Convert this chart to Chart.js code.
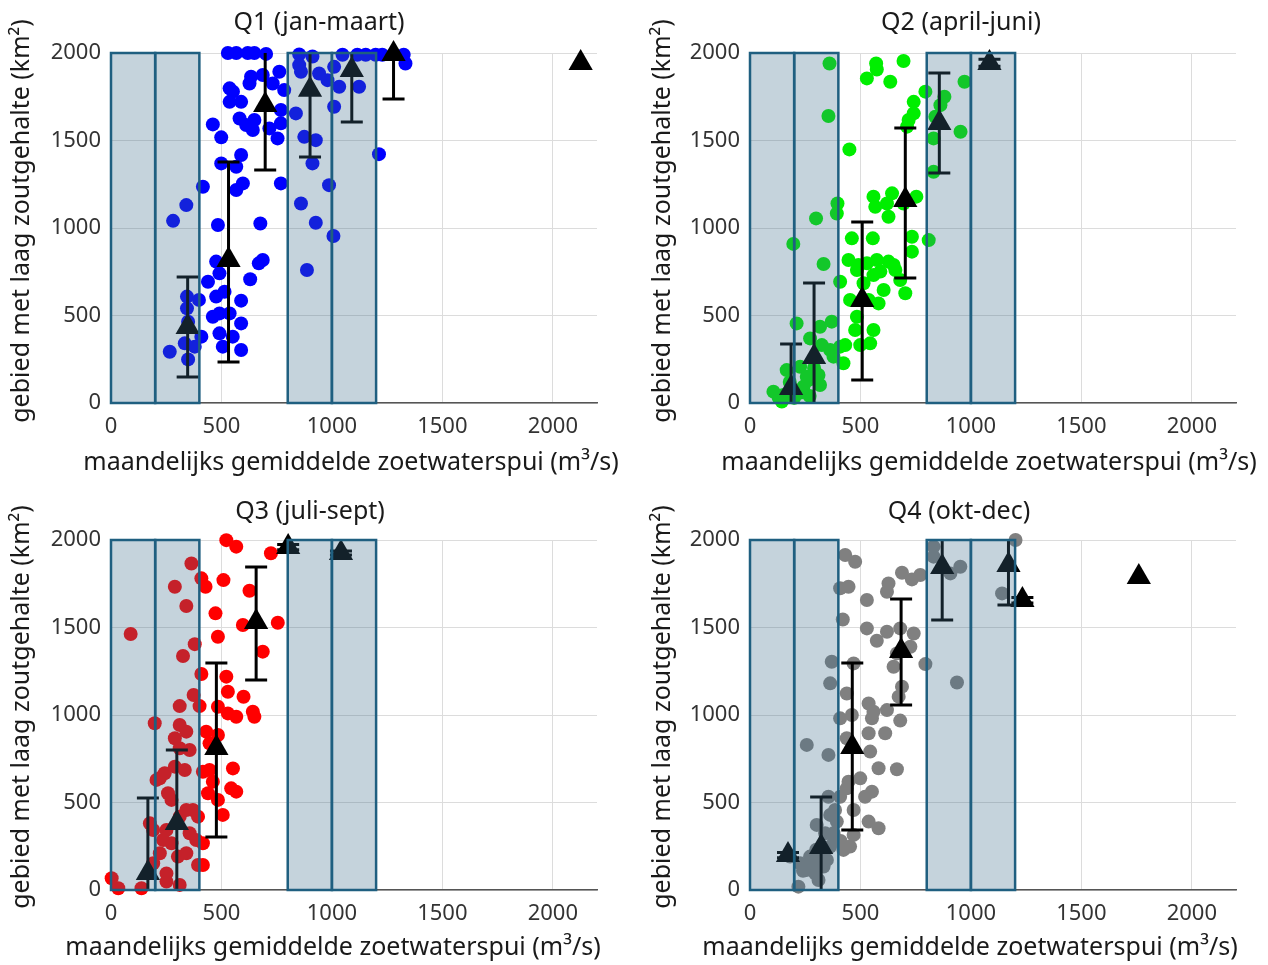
<!DOCTYPE html>
<html>
<head>
<meta charset="utf-8">
<script src="https://cdn.jsdelivr.net/npm/chart.js@4.4.0/dist/chart.umd.min.js"></script>
<style>
  html, body { margin: 0; padding: 0; background: #fff; }
  #wrap { position: relative; width: 1268px; height: 965px; overflow: hidden; }
  #wrap canvas { position: absolute; left: 0; top: 0; }
</style>
</head>
<body>
<div id="wrap">
  <canvas id="q1" width="1268" height="965"></canvas>
  <canvas id="q2" width="1268" height="965"></canvas>
  <canvas id="q3" width="1268" height="965"></canvas>
  <canvas id="q4" width="1268" height="965"></canvas>
</div>
<script>
// afvoerklassen (grijze vlakken)
const binLow = [0, 200, 800, 1000];
const binHigh = [200, 400, 1000, 1200];
const areaRange = [0, 2000];
const xTicks = [0, 500, 1000, 1500, 2000];
const yTicks = [0, 500, 1000, 1500, 2000];
const xMax = 2200;

const xTitle = 'maandelijks gemiddelde zoetwaterspui (m³/s)';
const yTitle = 'gebied met laag zoutgehalte (km²)';

// Q1 (jan-maart)
const q1Flow = [529, 567, 619, 649, 702, 852, 912, 1048, 1115, 1153, 1198, 1228, 1325, 1333,
  634, 627, 537, 552, 537, 589, 687, 732, 762, 784, 769, 582, 649, 612, 642, 717, 769, 461, 499, 754,
  589, 499, 567, 597, 567, 416, 676, 769, 341, 281, 484,
  852, 860, 942, 980, 1010, 1033, 1010, 837, 875, 927, 912, 987, 927, 860, 1123, 1213,
  1007, 887, 476, 491, 439, 669, 687, 630, 344, 398, 589, 476, 514, 344, 461, 491, 537, 589,
  349, 334, 379, 409, 266, 349, 491, 551, 506, 589];
const q1Area = [2000, 2000, 2000, 2000, 1995, 1992, 1980, 1990, 1990, 1990, 1990, 1990, 1990, 1940,
  1864, 1826, 1798, 1779, 1721, 1721, 1874, 1826, 1893, 1788, 1674, 1626, 1617, 1588, 1560, 1569, 1598, 1592, 1518, 1512,
  1417, 1369, 1350, 1255, 1217, 1236, 1026, 1255, 1131, 1041, 1017,
  1931, 1893, 1883, 1845, 1921, 1807, 1693, 1655, 1521, 1502, 1369, 1245, 1030, 1140, 1807, 1422,
  954, 760, 808, 741, 693, 798, 817, 707, 608, 589, 585, 608, 636, 541, 493, 512, 512, 455,
  465, 341, 322, 379, 293, 249, 398, 379, 322, 303];
const q1MeanFlow = [347, 532, 698, 901, 1090, 1279, 2126];
const q1MeanArea = [434, 817, 1703, 1790, 1903, 1995, 1943];
const q1Low = [149, 234, 1331, 1406, 1606, 1737, null];
const q1High = [720, 1377, 2100, 2100, 2100, 2100, null];

// Q2 (april-juni)
const q2Flow = [360, 355, 571, 574, 529, 635, 695, 450, 396, 393, 299, 559, 643, 620, 567, 627, 753, 695,
  741, 741, 718, 711, 794, 880, 862, 839, 831, 831, 953, 971,
  196, 333, 461, 556, 446, 491, 529, 574, 627, 650, 658, 590, 559, 484, 408, 453, 514, 605, 703, 582,
  484, 537, 476, 559, 499, 544, 733, 733, 809, 680,
  211, 317, 370, 272, 325, 363, 408, 378, 423, 166, 227, 257, 317, 106, 151, 212, 144, 242, 431,
  180, 230, 262, 290, 200, 130, 310, 270];
const q2Area = [1940, 1640, 1940, 1906, 1855, 1836, 1954, 1449, 1140, 1083, 1055, 1179, 1198, 1140, 1121, 1064, 1179, 1140,
  1721, 1655, 1617, 1579, 1779, 1750, 1702, 1636, 1512, 1321, 1550, 1836,
  909, 794, 941, 941, 817, 789, 798, 817, 808, 789, 760, 751, 731, 760, 693, 589, 684, 646, 627, 569,
  493, 589, 417, 417, 331, 341, 950, 865, 931, 703,
  455, 436, 465, 369, 331, 303, 322, 265, 227, 188, 207, 150, 103, 65, 46, 65, 8, 93, 331,
  120, 60, 130, 200, 30, 30, 160, 40];
const q2MeanFlow = [186, 290, 508, 703, 857, 1084];
const q2MeanArea = [86, 263, 589, 1160, 1600, 1943];
const q2Low = [-150, -160, 131, 714, 1314, 1925];
const q2High = [337, 686, 1034, 1571, 1886, 1965];

// Q3 (juli-sept)
const q3Flow = [522, 567, 724, 364, 409, 428, 289, 341, 509, 627, 473, 597, 755, 484, 89, 379, 326, 687,
  409, 522, 529, 600, 374, 311, 401, 484, 529, 567, 642, 649,
  198, 311, 341, 289, 431, 484, 311, 356, 446, 289, 334, 552, 416, 446, 221, 243, 206, 461, 544, 567,
  439, 484, 506, 258, 274, 341, 371, 311, 394, 251, 356, 176, 191, 236, 274, 386, 416, 303, 341, 221,
  394, 251, 416, 191, 3, 33, 138, 311, 251];
const q3Area = [1999, 1962, 1924, 1866, 1781, 1733, 1733, 1623, 1771, 1710, 1581, 1514, 1527, 1447, 1463, 1405, 1337, 1362,
  1234, 1219, 1133, 1104, 1114, 1051, 1051, 1047, 1009, 990, 1019, 990,
  953, 943, 905, 867, 905, 886, 810, 800, 838, 705, 686, 695, 676, 686, 638, 667, 629, 619, 581, 562,
  553, 515, 429, 553, 515, 457, 457, 419, 419, 343, 324, 381, 343, 286, 267, 286, 267, 191, 210, 210,
  143, 95, 143, 153, 67, 10, 10, 29, 48];
const q3MeanFlow = [167, 298, 477, 657, 802, 1041];
const q3MeanArea = [97, 383, 811, 1531, 1960, 1926];
const q3Low = [-200, -50, 303, 1200, 1945, 1915];
const q3High = [526, 800, 1297, 1846, 1975, 1937];

// Q4 (okt-dec)
const q4Flow = [431, 476, 408, 446, 420, 529, 529, 574, 627, 620, 688, 733, 771, 831, 831, 952, 907, 1202,
  620, 680, 741, 726, 665, 794, 650, 688, 673, 370, 363, 438, 469, 937, 1141, 537, 559, 620,
  408, 461, 552, 680, 612, 537, 438, 544, 582, 665, 446, 499, 552, 521, 408, 438, 469, 537, 582, 469,
  453, 423, 257, 355, 355, 385, 363, 302, 340, 378, 393, 181, 227, 257, 295, 333, 348, 272, 310, 219, 363,
  280, 320, 240, 300, 380, 410];
const q4Area = [1914, 1876, 1724, 1733, 1546, 1657, 1495, 1424, 1752, 1704, 1813, 1775, 1800, 1962, 1905, 1847, 1809, 2000,
  1476, 1495, 1466, 1390, 1352, 1291, 1276, 1162, 1105, 1304, 1181, 1123, 1295, 1186, 1695, 1066, 1019, 1028,
  981, 1000, 981, 968, 896, 896, 867, 791, 696, 690, 619, 638, 562, 533, 533, 581, 457, 391, 353, 315,
  248, 229, 829, 772, 533, 457, 429, 372, 324, 324, 391, 191, 153, 115, 95, 134, 172, 191, 57, 19, 248,
  140, 170, 110, 230, 300, 280];
const q4MeanFlow = [172, 322, 463, 684, 870, 1170, 1233, 1760];
const q4MeanArea = [200, 246, 817, 1366, 1846, 1857, 1657, 1789];
const q4Low = [185, -40, 343, 1057, 1543, 1629, 1640, null];
const q4High = [215, 531, 1297, 1663, 2050, 2050, 1672, null];

const panels = [
  { id: 'q1', title: 'Q1 (jan-maart)', color: '#0000ff', flow: q1Flow, area: q1Area,
    meanFlow: q1MeanFlow, meanArea: q1MeanArea, low: q1Low, high: q1High,
    box: { left: 111, right: 597, top: 53, bottom: 403 }, titleAt: [319, 23], xTitleAt: [351, 463], yTitleAt: [22, 221] },
  { id: 'q2', title: 'Q2 (april-juni)', color: '#00ee00', flow: q2Flow, area: q2Area,
    meanFlow: q2MeanFlow, meanArea: q2MeanArea, low: q2Low, high: q2High,
    box: { left: 750, right: 1236, top: 53, bottom: 403 }, titleAt: [961, 23], xTitleAt: [989, 463], yTitleAt: [663, 221] },
  { id: 'q3', title: 'Q3 (juli-sept)', color: '#ff0000', flow: q3Flow, area: q3Area,
    meanFlow: q3MeanFlow, meanArea: q3MeanArea, low: q3Low, high: q3High,
    box: { left: 111, right: 597, top: 540, bottom: 890 }, titleAt: [310, 512], xTitleAt: [333, 948], yTitleAt: [22, 707] },
  { id: 'q4', title: 'Q4 (okt-dec)', color: '#808080', flow: q4Flow, area: q4Area,
    meanFlow: q4MeanFlow, meanArea: q4MeanArea, low: q4Low, high: q4High,
    box: { left: 750, right: 1236, top: 540, bottom: 890 }, titleAt: [959, 512], xTitleAt: [970, 948], yTitleAt: [663, 707] }
];

const FONT = '"Noto Sans", "DejaVu Sans", sans-serif';
const Y_AXIS_W = 100;
const X_AXIS_H = 45;

// foutbalken, vlakken en teksten
const panelDecor = {
  id: 'panelDecor',
  beforeDatasetDraw(chart, args, opts) {
    if (args.index !== 0) return;
    const { ctx, chartArea, scales: { x, y } } = chart;
    ctx.save();
    ctx.beginPath();
    ctx.rect(chartArea.left, chartArea.top, chartArea.right - chartArea.left, chartArea.bottom - chartArea.top);
    ctx.clip();
    ctx.strokeStyle = '#000';
    ctx.lineWidth = 3;
    opts.meanFlow.forEach((f, i) => {
      if (opts.low[i] == null) return;
      const px = x.getPixelForValue(f);
      const lo = y.getPixelForValue(opts.low[i]);
      const hi = y.getPixelForValue(opts.high[i]);
      ctx.beginPath();
      ctx.moveTo(px, lo); ctx.lineTo(px, hi);
      ctx.moveTo(px - 11, lo); ctx.lineTo(px + 11, lo);
      ctx.moveTo(px - 11, hi); ctx.lineTo(px + 11, hi);
      ctx.stroke();
    });
    ctx.restore();
  },
  afterDatasetsDraw(chart) {
    const { ctx, scales: { x, y } } = chart;
    const t = y.getPixelForValue(areaRange[1]);
    const b = y.getPixelForValue(areaRange[0]);
    ctx.save();
    binLow.forEach((lo, i) => {
      const l = x.getPixelForValue(lo);
      const r = x.getPixelForValue(binHigh[i]);
      ctx.fillStyle = 'rgba(62, 108, 138, 0.3)';
      ctx.fillRect(l, t, r - l, b - t);
    });
    ctx.strokeStyle = '#1f5f80';
    ctx.lineWidth = 2.5;
    binLow.forEach((lo, i) => {
      const l = x.getPixelForValue(lo);
      const r = x.getPixelForValue(binHigh[i]);
      ctx.strokeRect(l, t, r - l, b - t);
    });
    ctx.restore();
  },
  afterDraw(chart, args, opts) {
    const ctx = chart.ctx;
    ctx.save();
    ctx.fillStyle = '#1a1a1a';
    ctx.textAlign = 'center';
    ctx.textBaseline = 'middle';
    ctx.font = '25px ' + FONT;
    ctx.fillText(opts.title, opts.titleAt[0], opts.titleAt[1]);
    ctx.fillText(xTitle, opts.xTitleAt[0], opts.xTitleAt[1]);
    ctx.translate(opts.yTitleAt[0], opts.yTitleAt[1]);
    ctx.rotate(-Math.PI / 2);
    ctx.fillText(yTitle, 0, 0);
    ctx.restore();
  }
};

function drawPanel(p) {
  new Chart(document.getElementById(p.id), {
    type: 'scatter',
    data: {
      datasets: [
        { label: 'gemiddelde', data: p.meanFlow.map((f, i) => ({ x: f, y: p.meanArea[i] })),
          pointStyle: 'triangle', pointRadius: 14, backgroundColor: '#000', borderWidth: 0, order: 1, clip: false },
        { label: 'maanden', data: p.flow.map((f, i) => ({ x: f, y: p.area[i] })),
          pointStyle: 'circle', pointRadius: 7, backgroundColor: p.color, borderWidth: 0, order: 2, clip: false }
      ]
    },
    options: {
      responsive: false,
      animation: false,
      devicePixelRatio: 1,
      layout: { padding: { left: p.box.left - Y_AXIS_W, right: 1268 - p.box.right, top: p.box.top, bottom: 965 - p.box.bottom - X_AXIS_H } },
      plugins: {
        legend: { display: false },
        tooltip: { enabled: false },
        panelDecor: p
      },
      scales: {
        x: {
          type: 'linear', min: 0, max: xMax,
          afterBuildTicks: (s) => { s.ticks = xTicks.map((v) => ({ value: v })); },
          afterFit: (s) => { s.height = X_AXIS_H; },
          grid: { color: '#dcdcdc', lineWidth: 1, drawTicks: false },
          border: { display: true, color: '#555', width: 1.5 },
          ticks: { padding: 11, color: '#333', autoSkip: false, maxRotation: 0, callback: (v) => String(v),
                   font: { family: FONT, size: 22 } }
        },
        y: {
          type: 'linear', min: areaRange[0], max: areaRange[1],
          afterBuildTicks: (s) => { s.ticks = yTicks.map((v) => ({ value: v })); },
          afterFit: (s) => { s.width = Y_AXIS_W; },
          grid: { color: '#dcdcdc', lineWidth: 1, drawTicks: false },
          border: { display: false },
          ticks: { padding: 10, color: '#333', autoSkip: false, callback: (v) => String(v),
                   font: { family: FONT, size: 22 } }
        }
      }
    },
    plugins: [panelDecor]
  });
}

panels.forEach(drawPanel);
</script>
</body>
</html>
